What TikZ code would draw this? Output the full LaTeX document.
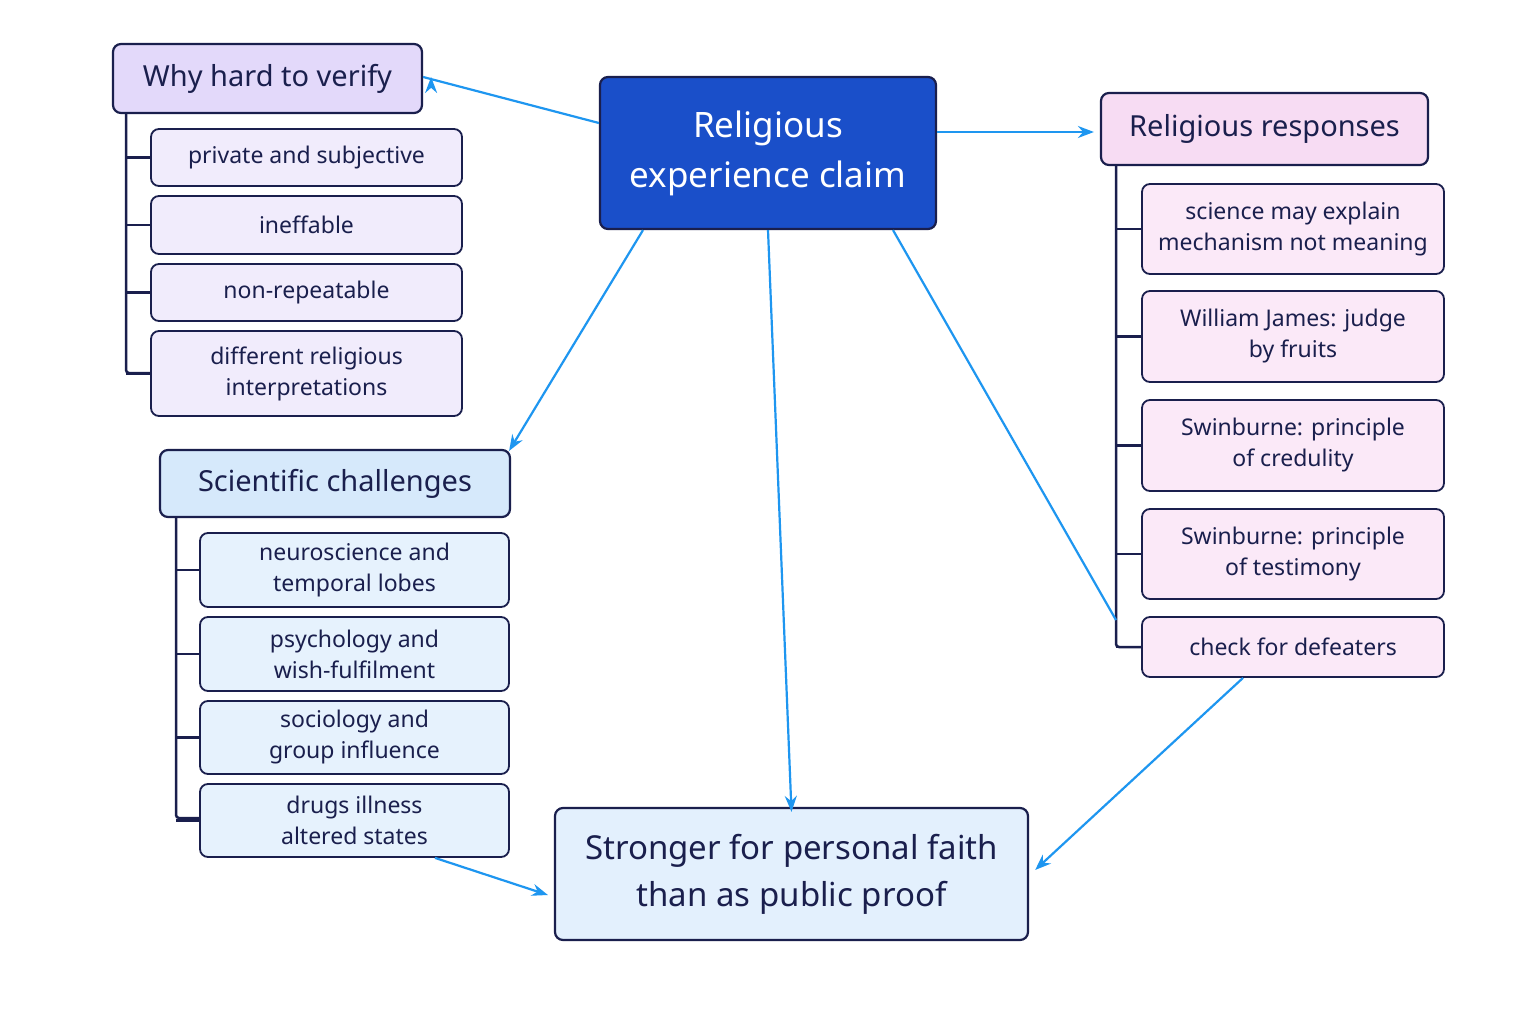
\documentclass[tikz,border=0pt]{standalone}
\usepackage{fontspec}
\setmainfont{Noto Sans}
\usetikzlibrary{arrows.meta}
\definecolor{navy}{HTML}{1A1F4D}
\definecolor{arr}{HTML}{1E96F0}
\definecolor{cen}{HTML}{1A4FC9}
\definecolor{whyh}{HTML}{E3D9FA}
\definecolor{whyc}{HTML}{F1ECFC}
\definecolor{scih}{HTML}{D6E9FB}
\definecolor{scic}{HTML}{E6F2FD}
\definecolor{relh}{HTML}{F7DCF3}
\definecolor{relc}{HTML}{FBE9F8}
\definecolor{botc}{HTML}{E3F0FD}
\begin{document}
\begin{tikzpicture}[x=1pt,y=-1pt,
 box/.style={draw=navy,line width=2.2pt,rounded corners=8pt,align=center,inner sep=0pt},
 head/.style={box,font=\fontsize{29}{34}\selectfont\bfseries,text=navy},
 kid/.style={box,line width=1.8pt,font=\fontsize{23}{31}\selectfont,text=navy},
 con/.style={arr,line width=2.2pt,-{Stealth[length=16pt,width=12pt]}},
 brk/.style={navy,line width=2.5pt}]
\fill[white] (0,0) rectangle (1536,1024);
\newcommand{\bx}[6]{\node[#1,fill=#2,minimum width=#5-#3 pt,minimum height=#6-#4 pt] (#2#3#4) at ({(#3+#5)/2},{(#4+#6)/2}) {};}
% central
\node[box,fill=cen,text=white,font=\fontsize{35}{50}\selectfont\bfseries,minimum width=336pt,minimum height=152pt] (c) at (768,153) {Religious\\experience claim};
% why hard
\node[head,fill=whyh,minimum width=309pt,minimum height=69pt] (w) at (267.5,78.5) {Why hard to verify};
\draw[brk,rounded corners=3pt] (126,113) -- (126,373) -- (151,373);
\foreach \n/\t/\b/\txt in {w1/129/186/private and subjective,w2/196/254/ineffable,w3/264/321/non-repeatable,w4/331/416/{different religious\\interpretations}}{
 \draw[brk] (126,{(\t+\b)/2}) -- (151,{(\t+\b)/2});
 \node[kid,fill=whyc,minimum width=311pt,minimum height=\b-\t pt] (\n) at (306.5,{(\t+\b)/2}) {\txt};}
% scientific
\node[head,fill=scih,minimum width=350pt,minimum height=67pt] (s) at (335,483.5) {Scientific challenges};
\draw[brk,rounded corners=3pt] (176,517) -- (176,818) -- (200,818);
\foreach \n/\t/\b/\txt in {s1/533/607/{neuroscience and\\temporal lobes},s2/617/691/{psychology and\\wish-fulfilment},s3/701/774/{sociology and\\group influence},s4/784/857/{drugs illness\\altered states}}{
 \draw[brk] (176,{(\t+\b)/2}) -- (200,{(\t+\b)/2});
 \node[kid,fill=scic,minimum width=309pt,minimum height=\b-\t pt] (\n) at (354.5,{(\t+\b)/2}) {\txt};}
% religious responses
\node[head,fill=relh,minimum width=327pt,minimum height=72pt] (r) at (1264.5,129) {Religious responses};
\draw[brk,rounded corners=3pt] (1116,165) -- (1116,647) -- (1142,647);
\foreach \n/\t/\b/\txt in {r1/184/274/{science may explain\\mechanism not meaning},r2/291/382/{William James: judge\\by fruits},r3/400/491/{Swinburne: principle\\of credulity},r4/509/599/{Swinburne: principle\\of testimony},r5/617/677/check for defeaters}{
 \draw[brk] (1116,{(\t+\b)/2}) -- (1142,{(\t+\b)/2});
 \node[kid,fill=relc,minimum width=302pt,minimum height=\b-\t pt] (\n) at (1293,{(\t+\b)/2}) {\txt};}
% bottom
\node[box,fill=botc,text=navy,font=\fontsize{33}{47}\selectfont\bfseries,minimum width=473pt,minimum height=132pt] (b) at (791.5,874) {Stronger for personal faith\\than as public proof};
% connectors
\draw[con] (c.west|-0,123) -- (w.east|-0,77) ++(8,0);
\draw[con] (c.east|-0,132) -- ([xshift=-6pt]r.west|-0,132);
\draw[con] (c.south-|643,0) -- ([shift={(-2pt,-2pt)}]s.north east);
\draw[con] (c.south) -- ([yshift=-5pt]b.north);
\draw[arr,line width=2.2pt] (c.south-|893,0) -- (1116,620);
\draw[con] (r5.south-|1243,0) -- ([xshift=6pt]b.east|-0,870);
\draw[con] (s4.south-|435,0) -- ([xshift=-6pt]b.west|-0,895);
\end{tikzpicture}
\end{document}
